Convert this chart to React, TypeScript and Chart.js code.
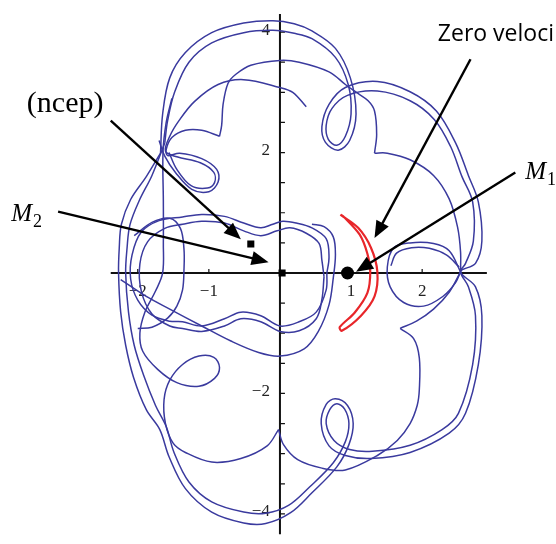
import React, { useEffect, useRef } from 'react';
import { Chart, registerables } from 'chart.js';

Chart.register(...registerables);

type P = [number, number];

// ---- scale ranges (data units) ----
const X_RANGE: P = [-3.846, 3.791];
const Y_RANGE: P = [-4.392, 4.425];
const X_AXIS_SPAN: P = [-2.38, 2.91];
const Y_AXIS_SPAN: P = [-4.34, 4.3];

// ---- ticks ----
const X_TICKS = [-2, -1, 1, 2];
const X_TICK_LABELS = [-2, -1, 1, 2];
const Y_TICKS = [-4, -3.5, -3, -2.5, -2, -1.5, -1, -0.5, 0.5, 1, 1.5, 2, 2.5, 3, 3.5, 4];
const Y_TICK_LABELS = [-4, -2, 2, 4];

// ---- trajectory strands (x, y) ----
const bandOuter: P[] = [
  [-1.68, 1.99], [-1.65, 2.64], [-1.55, 3.24], [-1.33, 3.66], [-0.96, 3.99], [-0.51, 4.15], [-0.1, 4.19],
  [0.2, 4.14], [0.45, 4.02], [0.78, 3.73], [0.99, 3.24], [1.07, 2.64], [0.98, 2.2], [0.82, 2.04], [0.64, 2.17],
  [0.59, 2.43], [0.69, 2.8], [0.92, 3.08], [1.37, 3.18], [1.83, 3.01], [2.2, 2.69], [2.47, 2.16], [2.65, 1.62],
  [2.79, 1.18], [2.84, 0.53], [2.75, 0.16], [2.54, 0.02], [2.75, -0.23], [2.84, -0.71], [2.79, -1.52],
  [2.61, -2.33], [2.38, -2.66], [1.83, -2.98], [1.28, -3.08], [0.92, -3.03], [0.69, -2.87], [0.58, -2.5],
  [0.65, -2.18], [0.78, -2.09], [0.95, -2.2], [1.03, -2.5], [0.97, -2.85], [0.8, -3.22], [0.45, -3.65],
  [0.15, -3.98], [-0.2, -4.16], [-0.51, -4.15], [-0.96, -3.97], [-1.33, -3.58], [-1.56, -3.05], [-1.69, -2.6],
  [-1.88, -2.27], [-2.06, -1.73], [-2.17, -1.2], [-2.24, -0.65], [-2.27, 0.0], [-2.26, 0.42], [-2.23, 0.81],
  [-2.1, 1.22], [-1.88, 1.6], [-1.68, 1.99],
];
const bandInner: P[] = [
  [-1.62, 2.16], [-1.58, 2.53], [-1.48, 3.01], [-1.28, 3.5], [-0.96, 3.82], [-0.51, 3.99], [-0.1, 4.03],
  [0.2, 3.98], [0.45, 3.89], [0.78, 3.58], [0.96, 3.13], [1.0, 2.64], [0.92, 2.27], [0.8, 2.12], [0.68, 2.22],
  [0.65, 2.45], [0.73, 2.73], [0.95, 2.95], [1.37, 3.02], [1.83, 2.86], [2.17, 2.55], [2.4, 2.1], [2.56, 1.6],
  [2.71, 1.18], [2.72, 0.53], [2.61, 0.16], [2.54, 0.02], [2.65, -0.23], [2.75, -0.71], [2.71, -1.52],
  [2.51, -2.33], [2.28, -2.6], [1.83, -2.86], [1.3, -2.96], [0.98, -2.93], [0.76, -2.78], [0.65, -2.5],
  [0.7, -2.27], [0.8, -2.17], [0.91, -2.26], [0.97, -2.5], [0.92, -2.8], [0.75, -3.15], [0.42, -3.55],
  [0.12, -3.86], [-0.2, -3.99], [-0.51, -3.97], [-0.96, -3.8], [-1.28, -3.47], [-1.49, -2.98], [-1.6, -2.55],
  [-1.75, -2.2], [-1.92, -1.69], [-2.05, -1.2], [-2.13, -0.65], [-2.17, 0.0], [-2.15, 0.42], [-2.11, 0.8],
  [-1.98, 1.2], [-1.8, 1.62], [-1.62, 2.16],
];
const leftDrop: P[] = [
  [-1.52, 2.9], [-1.6, 2.5], [-1.645, 2.0], [-1.64, 1.2], [-1.64, 0.5], [-1.65, 0.0], [-1.75, -0.3],
  [-1.9, -0.65], [-1.97, -1.0], [-1.93, -1.3], [-1.72, -1.6], [-1.45, -1.82], [-1.14, -1.88], [-0.92, -1.75],
  [-0.85, -1.57], [-0.93, -1.4], [-1.14, -1.38], [-1.37, -1.52], [-1.55, -1.78], [-1.63, -2.1], [-1.61, -2.5],
  [-1.5, -2.83], [-1.33, -2.98], [-0.96, -3.14], [-0.55, -3.08], [-0.18, -2.87], [-0.02, -2.6],
];
const lowerArc: P[] = [
  [-0.02, -2.6], [0.05, -2.85], [0.25, -3.1], [0.59, -3.24], [0.92, -3.27], [1.37, -3.03], [1.65, -2.78],
  [1.83, -2.5], [1.93, -2.2], [1.96, -1.94], [1.96, -1.41], [1.88, -1.09], [1.69, -0.92],
];
const rightLower: P[] = [[1.69, -0.92], [1.92, -0.8], [2.16, -0.6], [2.38, -0.32], [2.54, 0.02]];
const rightUpper: P[] = [
  [2.54, 0.02], [2.54, 0.35], [2.5, 0.75], [2.38, 1.23], [2.16, 1.62], [1.83, 1.88], [1.51, 1.99], [1.33, 1.99],
];
const upperArc: P[] = [
  [1.33, 1.99], [1.36, 2.3], [1.33, 2.69], [1.24, 2.86], [1.06, 3.01], [0.92, 3.13], [0.69, 3.34], [0.27, 3.5],
  [0, 3.53], [-0.41, 3.45], [-0.62, 3.3], [-0.73, 3.15], [-0.8, 2.8], [-0.82, 2.45], [-0.85, 2.27],
];
const upperLoop: P[] = [
  [-0.85, 2.27], [-1.1, 2.37], [-1.33, 2.37], [-1.52, 2.25], [-1.6, 2.05], [-1.58, 1.95], [-1.41, 1.99],
  [-1.1, 1.9], [-0.89, 1.72], [-0.87, 1.51], [-1.0, 1.35], [-1.24, 1.39], [-1.47, 1.67], [-1.62, 1.94], [-1.7, 2.2],
];
const freeArc: P[] = [
  [0.37, 2.76], [0.18, 3.0], [0, 3.08], [-0.51, 3.21], [-0.87, 3.13], [-1.2, 2.85], [-1.42, 2.53], [-1.55, 2.27],
  [-1.61, 2.02], [-1.45, 1.93], [-1.12, 1.83], [-0.93, 1.67], [-0.92, 1.5], [-1.02, 1.41], [-1.25, 1.45],
  [-1.45, 1.72], [-1.56, 2.0],
];
const rightCircle: P[] = [
  [2.54, 0.02], [2.38, 0.37], [2.16, 0.49], [1.83, 0.5], [1.6, 0.42], [1.51, 0.1], [1.55, -0.23], [1.74, -0.49],
  [2.02, -0.55], [2.29, -0.39], [2.47, -0.16], [2.54, 0.02],
];
const rightCircle2: P[] = [[2.52, 0.1], [2.34, 0.3], [2.1, 0.41], [1.85, 0.42], [1.64, 0.33], [1.56, 0.12]];
const waveA: P[] = [
  [0.66, 0.0], [0.69, 0.26], [0.65, 0.57], [0.45, 0.75], [0.23, 0.83], [0.04, 0.86], [-0.1, 0.81], [-0.27, 0.75],
  [-0.51, 0.83], [-0.78, 0.94], [-1.1, 0.97], [-1.37, 0.93], [-1.7, 0.87], [-1.95, 0.68], [-2.08, 0.3],
  [-2.1, -0.1], [-2.0, -0.45], [-1.8, -0.7], [-1.55, -0.8], [-1.37, -0.81], [-1.1, -0.88], [-0.78, -0.76],
  [-0.55, -0.65], [-0.27, -0.71], [0, -0.88], [0.27, -0.81], [0.51, -0.65], [0.65, -0.28], [0.66, 0.0],
];
const waveB: P[] = [
  [0.62, -0.06], [0.59, 0.21], [0.55, 0.49], [0.37, 0.66], [0.14, 0.75], [-0.04, 0.7], [-0.27, 0.62],
  [-0.51, 0.7], [-0.78, 0.83], [-1.1, 0.86], [-1.37, 0.81], [-1.62, 0.74], [-1.86, 0.52], [-1.97, 0.15],
  [-1.95, -0.3], [-1.8, -0.68], [-1.55, -0.88], [-1.37, -0.92], [-1.1, -0.97], [-0.78, -0.88], [-0.55, -0.76],
  [-0.27, -0.81], [0, -0.97], [0.27, -0.96], [0.51, -0.76], [0.59, -0.44], [0.62, -0.06],
];
const leftCircle: P[] = [
  [-2.05, 0.62], [-1.8, 0.84], [-1.55, 0.91], [-1.4, 0.74], [-1.35, 0.4], [-1.35, 0.05], [-1.37, -0.28],
  [-1.45, -0.55], [-1.58, -0.75], [-1.8, -0.9], [-2.0, -0.92],
];
const diagonal: P[] = [
  [-2.24, -0.11], [-1.88, -0.39], [-1.55, -0.6], [-1.1, -0.88], [-0.69, -1.13], [-0.3, -1.32], [0, -1.38],
  [0.34, -1.26], [0.54, -0.97], [0.69, -0.53], [0.75, -0.08], [0.78, 0.3], [0.75, 0.6], [0.62, 0.77], [0.45, 0.81],
];

const TRAJECTORY: P[][] = [
  bandOuter, bandInner, leftDrop, lowerArc, rightLower, rightUpper, upperArc, upperLoop, freeArc,
  rightCircle, rightCircle2, waveA, waveB, leftCircle, diagonal,
];

// zero velocity curve
const zeroVelocity: P[] = [
  [0.85, 0.97], [1.1, 0.75], [1.28, 0.42], [1.37, 0.02], [1.33, -0.39], [1.14, -0.71], [0.87, -0.96],
  [0.84, -0.9], [1.05, -0.66], [1.23, -0.33], [1.27, 0.02], [1.23, 0.32], [1.12, 0.64], [0.9, 0.93], [0.85, 0.97],
];

// bodies
const primaryM1: P[] = [[0.95, 0]];
const squares: P[] = [[0.03, 0], [-0.41, 0.48]];

// annotations
const ARROWS: { from: P; to: P }[] = [
  { from: [-2.38, 2.53], to: [-0.55, 0.56] },
  { from: [-3.12, 1.02], to: [-0.16, 0.18] },
  { from: [2.68, 3.55], to: [1.33, 0.58] },
  { from: [3.31, 1.67], to: [1.07, 0.02] },
];
const LABEL_NCEP = { text: '(ncep)', at: [-3.56, 2.67] as P };
const LABEL_ZV = { text: 'Zero veloci', at: [2.22, 3.86] as P };
const LABEL_M2 = { main: 'M', sub: '2', at: [-3.78, 0.86] as P };
const LABEL_M1 = { main: 'M', sub: '1', at: [3.45, 1.56] as P };

const BLUE = '#3a3a9e';
const RED = '#e8262a';

const fmt = (v: number) => (v < 0 ? '\u2212' + Math.abs(v) : String(v));

const bgPlugin = {
  id: 'bg',
  beforeDraw(chart: any) {
    const { ctx, width, height } = chart;
    ctx.save();
    ctx.fillStyle = '#ffffff';
    ctx.fillRect(0, 0, width, height);
    ctx.restore();
  },
};

const axesPlugin = {
  id: 'axesAtZero',
  beforeDatasetsDraw(chart: any) {
    const { ctx } = chart;
    const xs = chart.scales.x;
    const ys = chart.scales.y;
    const x0 = xs.getPixelForValue(0);
    const y0 = ys.getPixelForValue(0);
    ctx.save();
    ctx.strokeStyle = '#111';
    ctx.lineWidth = 2;
    ctx.beginPath();
    ctx.moveTo(xs.getPixelForValue(X_AXIS_SPAN[0]), y0);
    ctx.lineTo(xs.getPixelForValue(X_AXIS_SPAN[1]), y0);
    ctx.moveTo(x0, ys.getPixelForValue(Y_AXIS_SPAN[1]));
    ctx.lineTo(x0, ys.getPixelForValue(Y_AXIS_SPAN[0]));
    ctx.stroke();
    ctx.lineWidth = 1.2;
    ctx.beginPath();
    for (const v of Y_TICKS) {
      const py = ys.getPixelForValue(v);
      ctx.moveTo(x0, py);
      ctx.lineTo(x0 + 5, py);
    }
    for (const v of X_TICKS) {
      const px = xs.getPixelForValue(v);
      ctx.moveTo(px, y0);
      ctx.lineTo(px, y0 - 4);
    }
    ctx.stroke();
    ctx.fillStyle = '#222';
    ctx.font = '17px "Liberation Serif"';
    ctx.textAlign = 'center';
    ctx.textBaseline = 'middle';
    for (const v of X_TICK_LABELS) ctx.fillText(fmt(v), xs.getPixelForValue(v), y0 + 19);
    ctx.textAlign = 'right';
    for (const v of Y_TICK_LABELS) ctx.fillText(fmt(v), x0 - 10, ys.getPixelForValue(v) - 2);
    ctx.restore();
  },
};

const annotationPlugin = {
  id: 'annotations',
  afterDatasetsDraw(chart: any) {
    const { ctx } = chart;
    const xs = chart.scales.x;
    const ys = chart.scales.y;
    const px = (p: P) => [xs.getPixelForValue(p[0]), ys.getPixelForValue(p[1])];
    ctx.save();
    ctx.strokeStyle = '#000';
    ctx.fillStyle = '#000';
    ctx.lineWidth = 2.4;
    for (const a of ARROWS) {
      const [x1, y1] = px(a.from);
      const [x2, y2] = px(a.to);
      const ang = Math.atan2(y2 - y1, x2 - x1);
      const L = 17;
      const W = 7;
      const bx = x2 - L * Math.cos(ang);
      const by = y2 - L * Math.sin(ang);
      ctx.beginPath();
      ctx.moveTo(x1, y1);
      ctx.lineTo(bx + 2 * Math.cos(ang), by + 2 * Math.sin(ang));
      ctx.stroke();
      ctx.beginPath();
      ctx.moveTo(x2, y2);
      ctx.lineTo(bx + W * Math.sin(ang), by - W * Math.cos(ang));
      ctx.lineTo(bx - W * Math.sin(ang), by + W * Math.cos(ang));
      ctx.closePath();
      ctx.fill();
    }
    ctx.textAlign = 'left';
    ctx.textBaseline = 'alphabetic';
    ctx.font = '30px "Liberation Serif"';
    let [tx, ty] = px(LABEL_NCEP.at);
    ctx.fillText(LABEL_NCEP.text, tx, ty);
    ctx.font = '23px "Open Sans"';
    [tx, ty] = px(LABEL_ZV.at);
    ctx.fillText(LABEL_ZV.text, tx, ty);
    for (const lab of [LABEL_M2, LABEL_M1]) {
      [tx, ty] = px(lab.at);
      ctx.font = 'italic 25px "Liberation Serif"';
      ctx.fillText(lab.main, tx, ty);
      const w = ctx.measureText(lab.main).width;
      ctx.font = '18px "Liberation Serif"';
      ctx.fillText(lab.sub, tx + w + 1, ty + 6);
    }
    ctx.restore();
  },
};

export default function App() {
  const ref = useRef<HTMLCanvasElement | null>(null);
  useEffect(() => {
    if (!ref.current) return;
    const toPts = (arr: P[]) => arr.map(([x, y]) => ({ x, y }));
    const blueSets = TRAJECTORY.map((s) => ({
      data: toPts(s),
      showLine: true,
      borderColor: BLUE,
      borderWidth: 1.5,
      pointRadius: 0,
      tension: 0.35,
      fill: false,
      order: 3,
    }));
    const chart = new Chart(ref.current, {
      type: 'scatter',
      data: {
        datasets: [
          {
            data: toPts(primaryM1),
            pointStyle: 'circle',
            pointRadius: 6.5,
            backgroundColor: '#000',
            borderColor: '#000',
            borderWidth: 0,
            order: 0,
          } as any,
          {
            data: toPts(squares),
            pointStyle: 'rect',
            pointRadius: 5,
            backgroundColor: '#000',
            borderColor: '#000',
            borderWidth: 0,
            order: 0,
          } as any,
          {
            data: toPts(zeroVelocity),
            showLine: true,
            borderColor: RED,
            borderWidth: 2.2,
            pointRadius: 0,
            tension: 0.3,
            fill: false,
            order: 1,
          } as any,
          ...(blueSets as any[]),
        ],
      },
      options: {
        animation: false,
        responsive: false,
        devicePixelRatio: 1,
        layout: { padding: 0 },
        plugins: { legend: { display: false }, tooltip: { enabled: false } },
        events: [],
        scales: {
          x: { type: 'linear', min: X_RANGE[0], max: X_RANGE[1], display: false },
          y: { type: 'linear', min: Y_RANGE[0], max: Y_RANGE[1], display: false },
        },
      },
      plugins: [bgPlugin, axesPlugin, annotationPlugin],
    });
    return () => chart.destroy();
  }, []);
  return (
    <div style={{ position: 'fixed', left: 0, top: 0, width: 556, height: 544, background: '#fff' }}>
      <canvas ref={ref} width={556} height={544} style={{ display: 'block', width: 556, height: 544 }} />
    </div>
  );
}
